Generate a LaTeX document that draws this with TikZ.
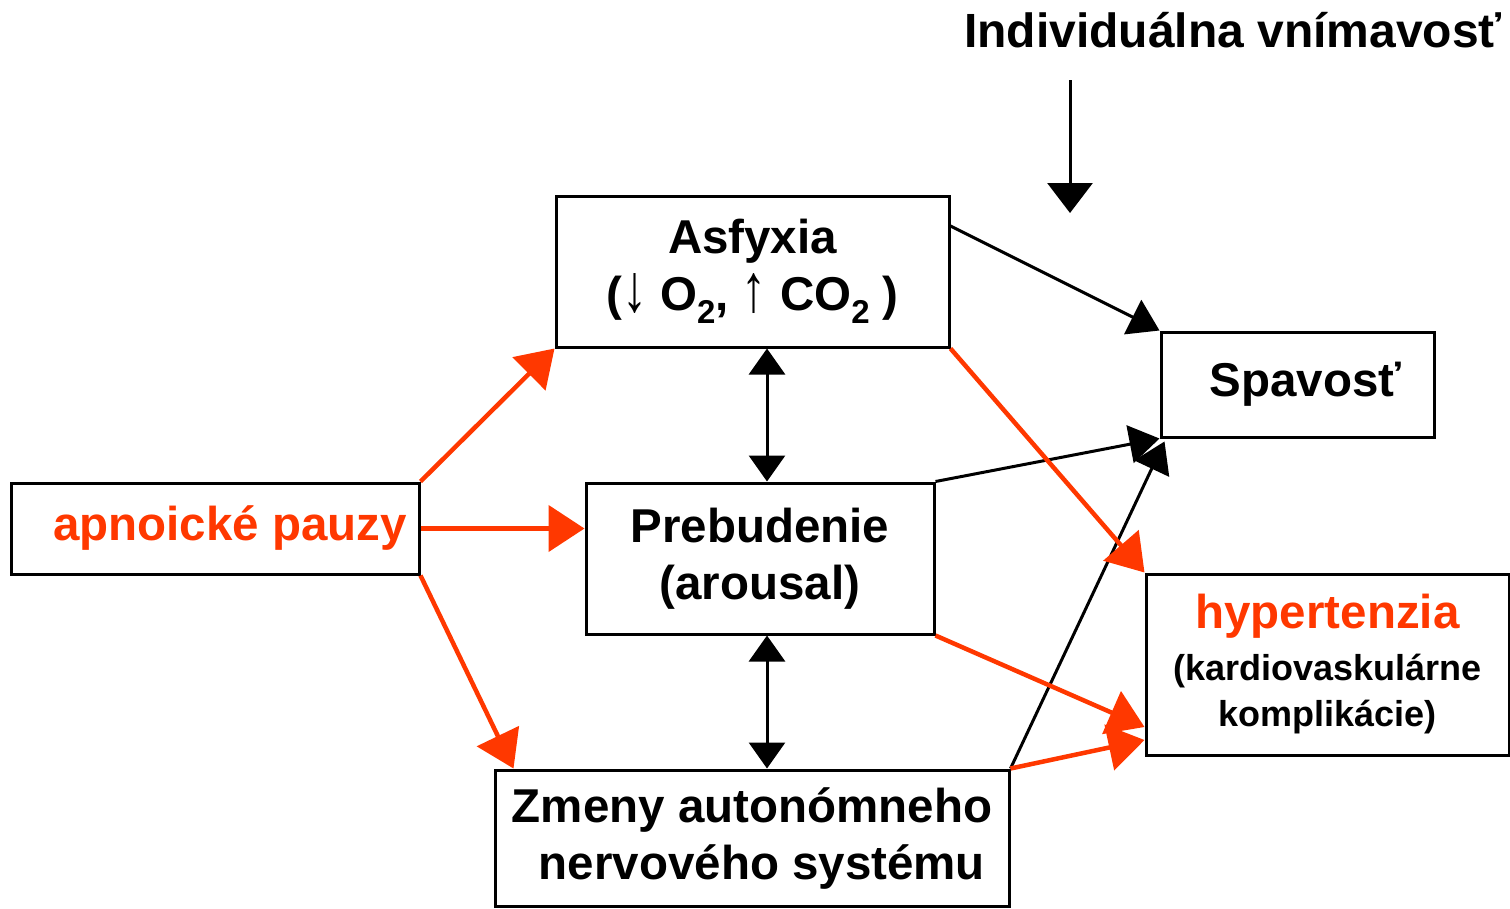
\documentclass[tikz,border=0pt]{standalone}
\usepackage{fontspec}
\usepackage{graphicx}
\setmainfont{Liberation Sans}
\usetikzlibrary{arrows.meta}
\definecolor{apred}{RGB}{255,56,0}
\newcommand{\subtwo}{\raisebox{-0.28em}{\fontsize{33}{33}\selectfont 2}}
\newsavebox{\arrbox}
\newcommand{\tallarr}[1]{\sbox{\arrbox}{\fontseries{m}\selectfont #1}%
  \raisebox{-\dp\arrbox}{\resizebox*{25pt}{40pt}{\usebox{\arrbox}}}}
\begin{document}
\begin{tikzpicture}[x=1pt,y=-1pt,
  box/.style={draw=black,line width=3pt,rectangle,inner sep=0pt,align=center,
    font=\fontsize{47.5}{57}\selectfont\bfseries},
  redarr/.style={draw=apred,line width=4.5pt,-{Triangle[length=36pt,width=46pt]}},
  blkarr/.style={draw=black,line width=3pt,-{Triangle[length=30pt,width=38pt]}},
  dblarr/.style={draw=black,line width=3pt,{Triangle[length=26pt,width=36pt]}-{Triangle[length=26pt,width=36pt]}}]
\useasboundingbox (0,0) rectangle (1510,908);
% nodes
\node[box,minimum width=393pt,minimum height=151pt] (asf) at (752.5,271.5)
  {Asfyxia\\(\tallarr{↓} O\subtwo, \tallarr{↑} CO\subtwo\ )};
\node[box,minimum width=273pt,minimum height=105pt] (spa) at (1297.5,384.5)
  {\hspace*{16pt}Spavosť};
\node[box,minimum width=408pt,minimum height=91pt,text=apred] (apn) at (215,528.5)
  {\hspace*{30pt}apnoické pauzy};
\node[box,minimum width=348pt,minimum height=151pt] (pre) at (760,558.5)
  {Prebudenie\\(arousal)};
\node[box,minimum width=363pt,minimum height=181pt] (hyp) at (1327.5,664.5)
  {\textcolor{apred}{hypertenzia}\\[-5pt]
   \fontsize{36}{45}\selectfont (kardiovaskulárne\\[-11pt]\fontsize{36}{45}\selectfont komplikácie)};
\node[box,minimum width=514pt,minimum height=136pt] (zme) at (752,838)
  {Zmeny autonómneho\\\hspace*{20pt}nervového systému};
\node[font=\fontsize{48}{56}\selectfont\bfseries,inner sep=0pt] (ind) at (1233,30)
  {Individuálna vnímavosť};
\coordinate (ts) at (1070,80);
\coordinate (te) at (1070,213);
% connectors
\draw[line width=3pt,-{Triangle[length=30pt,width=45pt]}] (ts) -- (te);
\draw[redarr] (apn.north east) -- (asf.south west);
\draw[redarr] (apn.east) -- (apn.east -| pre.west);
\draw[redarr] (apn.south east) -- ([xshift=20pt]zme.north west);
\draw[dblarr] ([xshift=14.5pt]asf.south) -- ([xshift=14.5pt]asf.south |- pre.north);
\draw[dblarr] ([xshift=7pt]pre.south) -- ([xshift=7pt]pre.south |- zme.north);
\draw[blkarr] ([yshift=45.5pt]asf.east) -- (spa.north west);
\draw[blkarr] (pre.north east) -- (spa.south west);
\draw[blkarr] (zme.north east) -- ([xshift=5pt,yshift=-3pt]spa.south west);
\draw[redarr] (asf.south east) -- (hyp.north west);
\draw[redarr] (pre.south east) -- ([yshift=-62.5pt]hyp.west);
\draw[redarr] (zme.north east) -- ([yshift=-75.5pt]hyp.west);
\end{tikzpicture}
\end{document}
